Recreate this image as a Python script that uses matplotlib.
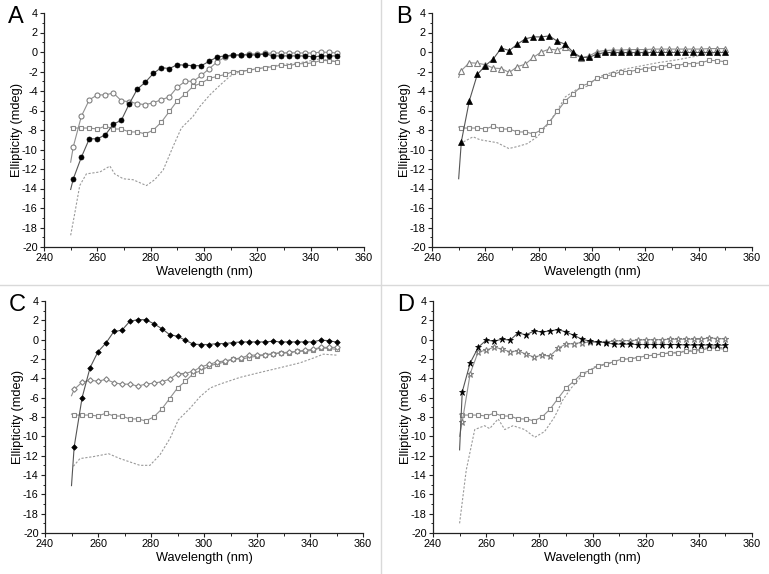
import matplotlib
import matplotlib.pyplot as plt
from matplotlib.lines import Line2D
from matplotlib.ticker import MultipleLocator

matplotlib.rcParams['font.family'] = 'Liberation Sans'
matplotlib.rcParams['axes.unicode_minus'] = False

# marker wavelengths (nm), every 3 nm
wl = [251, 254, 257, 260, 263, 266, 269, 272, 275, 278, 281, 284, 287, 290, 293, 296, 299,
      302, 305, 308, 311, 314, 317, 320, 323, 326, 329, 332, 335, 338, 341, 344, 347, 350]

# reference spectrum (open squares), same in every panel
square = [-7.8, -7.8, -7.8, -7.9, -7.6, -7.9, -7.9, -8.2, -8.2, -8.4, -8.0, -7.2, -6.1, -5.0,
          -4.3, -3.5, -3.2, -2.7, -2.5, -2.3, -2.0, -2.0, -1.85, -1.7, -1.6, -1.5, -1.35, -1.4,
          -1.2, -1.2, -1.1, -0.85, -0.9, -1.0]
square_start = -7.7

# panel A
a_open = [-9.7, -6.6, -4.9, -4.4, -4.4, -4.2, -5.0, -5.1, -5.3, -5.4, -5.2, -4.9, -4.6, -3.6,
          -3.0, -3.0, -2.4, -1.7, -1.0, -0.5, -0.35, -0.3, -0.2, -0.2, -0.15, -0.1, -0.1, -0.1,
          -0.1, -0.1, -0.1, 0.0, -0.05, -0.1]
a_open_start = -11.3
a_fill = [-13.0, -10.8, -8.9, -8.9, -8.5, -7.4, -7.0, -5.3, -3.8, -3.1, -2.2, -1.6, -1.7, -1.3,
          -1.35, -1.4, -1.4, -0.95, -0.5, -0.4, -0.3, -0.3, -0.3, -0.3, -0.2, -0.4, -0.4, -0.4,
          -0.4, -0.4, -0.5, -0.4, -0.4, -0.4]
a_fill_start = -14.1
a_dot_x = [250, 251.5, 253.4, 255.9, 261, 264.7, 266.5, 269.7, 273.4, 278.4, 281.5, 284.7, 288.4,
           291.5, 295.9, 298.4, 302.2, 306, 309.7, 313.5, 321, 328.5, 336, 343.5, 350]
a_dot_y = [-18.8, -16.6, -13.7, -12.5, -12.3, -11.7, -12.5, -13.0, -13.1, -13.7, -13.1, -12.1,
           -9.7, -7.8, -6.6, -5.6, -4.4, -3.4, -2.5, -2.0, -1.7, -1.3, -1.1, -0.7, -1.0]

# panel B
b_open = [-1.9, -1.1, -1.15, -1.3, -1.65, -1.7, -2.1, -1.5, -1.25, -0.55, 0.0, 0.3, 0.2, 0.55,
          -0.2, -0.6, -0.4, 0.05, 0.15, 0.2, 0.2, 0.25, 0.25, 0.25, 0.3, 0.3, 0.3, 0.3, 0.3, 0.3,
          0.3, 0.35, 0.35, 0.35]
b_open_start = -2.6
b_fill = [-9.2, -5.0, -2.3, -1.4, -0.7, 0.4, 0.15, 0.8, 1.35, 1.55, 1.55, 1.65, 1.1, 0.8, -0.05,
          -0.55, -0.55, -0.2, -0.05, -0.05, -0.05, -0.05, -0.05, -0.05, -0.05, -0.05, -0.05,
          -0.05, -0.05, -0.05, -0.05, -0.05, -0.05, -0.05]
b_fill_start = -13.0
b_dot_x = [250.5, 255.4, 258, 264.4, 268.8, 272, 275.7, 279.5, 283.2, 287, 290, 293.9, 298.3,
           302, 309.5, 317, 324.6, 332, 339.6, 344, 349]
b_dot_y = [-9.4, -8.7, -9.0, -9.3, -9.9, -9.7, -9.4, -8.7, -7.5, -6.0, -4.6, -3.9, -3.5, -2.6,
           -1.9, -1.5, -1.1, -0.8, -0.4, -0.1, -0.45]

# panel C
c_open = [-5.15, -4.4, -4.2, -4.3, -4.1, -4.45, -4.6, -4.6, -4.8, -4.6, -4.5, -4.35, -4.1, -3.5,
          -3.5, -3.25, -2.8, -2.55, -2.3, -2.2, -2.0, -1.9, -1.6, -1.6, -1.55, -1.45, -1.35,
          -1.3, -1.2, -1.1, -1.0, -0.8, -0.8, -0.8]
c_open_start = -5.8
c_fill = [-11.1, -6.0, -2.9, -1.25, -0.35, 0.85, 0.97, 1.9, 2.07, 2.07, 1.66, 1.15, 0.53, 0.35,
          -0.06, -0.47, -0.5, -0.5, -0.4, -0.4, -0.3, -0.23, -0.23, -0.23, -0.23, -0.16, -0.23,
          -0.23, -0.23, -0.23, -0.23, -0.05, -0.1, -0.25]
c_fill_start = -15.1
c_dot_x = [250.7, 253.2, 258.2, 264, 268.3, 275.8, 279.6, 283.4, 287.2, 290.3, 294.7, 298.5,
           302.3, 306, 313.6, 321, 328.7, 336.2, 341.3, 345, 350]
c_dot_y = [-13.1, -12.3, -12.1, -11.8, -12.3, -13.0, -13.0, -11.9, -10.2, -8.3, -7.1, -5.9,
           -5.0, -4.6, -3.9, -3.4, -2.9, -2.4, -1.9, -1.5, -1.6]

# panel D
d_open = [-8.5, -3.5, -1.25, -1.1, -0.75, -1.0, -1.25, -1.15, -1.5, -1.8, -1.6, -1.7, -0.9,
          -0.45, -0.4, -0.3, -0.25, -0.25, -0.25, -0.15, -0.1, -0.1, -0.05, 0.0, 0.0, 0.0, 0.05,
          0.05, 0.05, 0.05, 0.05, 0.2, 0.1, 0.1]
d_open_start = -10.0
d_fill = [-5.4, -2.4, -0.8, -0.05, -0.15, 0.05, -0.05, 0.7, 0.5, 0.9, 0.8, 0.9, 1.05, 0.8, 0.45,
          0.05, -0.15, -0.25, -0.3, -0.47, -0.47, -0.47, -0.5, -0.5, -0.5, -0.5, -0.5, -0.5,
          -0.55, -0.55, -0.55, -0.55, -0.57, -0.57]
d_fill_start = -11.4
d_dot_x = [250, 252.5, 255.7, 259.4, 261.3, 264.5, 267, 270.1, 274.5, 278.3, 282, 285.8, 288.9,
           292, 295.8, 300.8, 305, 310, 320, 330, 340, 345, 350]
d_dot_y = [-19.0, -13.5, -9.3, -8.9, -9.2, -8.2, -9.3, -8.9, -9.3, -10.1, -9.5, -7.96, -6.2,
           -5.0, -3.8, -2.8, -2.6, -2.1, -1.7, -1.35, -1.0, -0.75, -0.85]

W, H = 769, 574
fig = plt.figure(figsize=(W / 100, H / 100), dpi=100)

# light separators between panels
fig.add_artist(Line2D([381 / W, 381 / W], [0, 1], color='#d9d9d9', lw=1))
fig.add_artist(Line2D([0, 1], [1 - 285 / H, 1 - 285 / H], color='#d9d9d9', lw=1))

panels = [
    ('A', (44, 364, 13, 247), 'o', a_open, a_open_start, a_fill, a_fill_start, a_dot_x, a_dot_y, 3.6),
    ('B', (432, 752, 13, 247), '^', b_open, b_open_start, b_fill, b_fill_start, b_dot_x, b_dot_y, 3.9),
    ('C', (45, 363, 301, 533), 'D', c_open, c_open_start, c_fill, c_fill_start, c_dot_x, c_dot_y, 2.8),
    ('D', (433, 752, 301, 533), '*', d_open, d_open_start, d_fill, d_fill_start, d_dot_x, d_dot_y, 4.6),
]

for letter, (l, r, t, b), mk, op, op0, fl, fl0, dx, dy, ms in panels:
    ax = fig.add_axes([l / W, 1 - b / H, (r - l) / W, (b - t) / H])

    ax.plot(dx, dy, color='#9a9a9a', lw=0.8, ls=(0, (2, 1.5)))
    ax.plot([250] + wl, [square_start] + square, color='#909090', lw=0.8, marker='s', ms=3.0,
            mfc='white', mec='#888888', mew=0.8, markevery=slice(1, None))
    ax.plot([250] + wl, [op0] + op, color='#909090', lw=0.8, marker=mk, ms=ms,
            mfc='white', mec='#808080', mew=0.8, markevery=slice(1, None))
    ax.plot([250] + wl, [fl0] + fl, color='#555555', lw=0.8, marker=mk, ms=ms,
            mfc='black', mec='black', mew=0.5, markevery=slice(1, None))

    ax.set_xlim(240, 360)
    ax.set_ylim(-20, 4)
    ax.xaxis.set_major_locator(MultipleLocator(20))
    ax.xaxis.set_minor_locator(MultipleLocator(10))
    ax.yaxis.set_major_locator(MultipleLocator(2))
    ax.yaxis.set_minor_locator(MultipleLocator(1))
    for s in ['top', 'right']:
        ax.spines[s].set_visible(False)
    for s in ['left', 'bottom']:
        ax.spines[s].set_color('#222222')
        ax.spines[s].set_linewidth(0.9)
    ax.tick_params(which='major', direction='out', length=3, width=0.8, labelsize=7.8,
                   color='#222222', pad=1.5)
    ax.tick_params(which='minor', direction='out', length=1.8, width=0.7, color='#222222')
    ax.set_xlabel('Wavelength (nm)', fontsize=9.2, va='center')
    ax.set_ylabel('Ellipticity (mdeg)', fontsize=9.2, va='center')
    ax.xaxis.set_label_coords(0.5, -25 / (b - t))
    ax.yaxis.set_label_coords(-27 / (r - l), 0.5)

    fig.text((l - 36) / W, 1 - (t + 4) / H, letter, fontsize=17, va='center', ha='left')

fig.savefig('out.png', dpi=100)
